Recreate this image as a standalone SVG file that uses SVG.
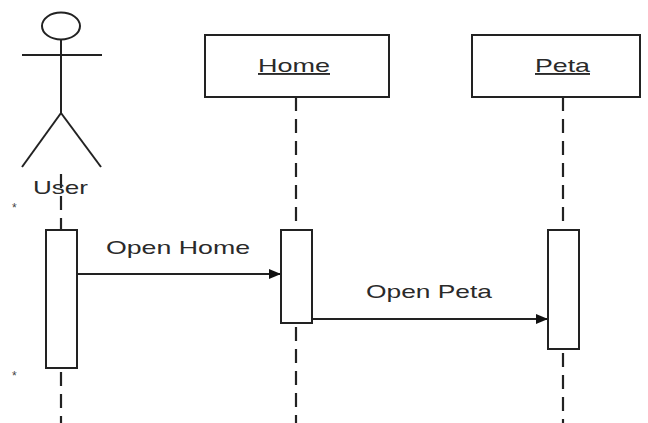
<svg xmlns="http://www.w3.org/2000/svg" width="648" height="423" viewBox="0 0 648 423">
<style>
.ln{stroke:#222;stroke-width:2;fill:none}
.life{stroke:#222;stroke-width:2.2;stroke-dasharray:14 8;fill:none}
.box{fill:#fff;stroke:#222;stroke-width:2}
.t{font-family:"Liberation Sans",Arial,sans-serif;font-size:19px;fill:#2a2a2a}
.s{font-family:"Liberation Sans",Arial,sans-serif;font-size:12px;fill:#444}
</style>
<defs>
<marker id="ah" markerWidth="12" markerHeight="10" refX="12" refY="5" orient="auto" markerUnits="userSpaceOnUse">
<path d="M0,0 L12,5 L0,10 Z" fill="#111"/>
</marker>
</defs>
<rect width="648" height="423" fill="#fff"/>
<g id="connectors">
<line class="life" x1="61" y1="174" x2="61" y2="230"/>
<line class="life" x1="61" y1="372" x2="61" y2="423"/>
<line class="life" x1="296" y1="97" x2="296" y2="230"/>
<line class="life" x1="296" y1="327" x2="296" y2="423"/>
<line class="life" x1="563" y1="97" x2="563" y2="230"/>
<line class="life" x1="563" y1="353" x2="563" y2="423"/>
<line class="ln" x1="77" y1="274" x2="281" y2="274" marker-end="url(#ah)"/>
<line class="ln" x1="312" y1="319" x2="548" y2="319" marker-end="url(#ah)"/>
<text class="t" x="106" y="254" textLength="144" lengthAdjust="spacingAndGlyphs">Open Home</text>
<text class="t" x="366" y="298" textLength="126" lengthAdjust="spacingAndGlyphs">Open Peta</text>
</g>
<g id="user">
<ellipse class="ln" cx="61" cy="26" rx="19" ry="13.5"/>
<line class="ln" x1="61" y1="40" x2="61" y2="113"/>
<line class="ln" x1="22" y1="55" x2="102" y2="55"/>
<line class="ln" x1="61" y1="113" x2="22" y2="167"/>
<line class="ln" x1="61" y1="113" x2="101" y2="167"/>
<text class="t" x="33" y="194" textLength="55" lengthAdjust="spacingAndGlyphs">User</text>
<text class="s" x="12" y="212">*</text>
<text class="s" x="12" y="380">*</text>
<rect class="box" x="46" y="230" width="31" height="138"/>
</g>
<g id="home">
<rect class="box" x="205" y="35" width="184" height="62"/>
<text class="t" x="258" y="72" textLength="72" lengthAdjust="spacingAndGlyphs" text-decoration="underline">Home</text>
<rect class="box" x="281" y="230" width="31" height="93"/>
</g>
<g id="peta">
<rect class="box" x="472" y="35" width="168" height="62"/>
<text class="t" x="535" y="72" textLength="55" lengthAdjust="spacingAndGlyphs" text-decoration="underline">Peta</text>
<rect class="box" x="548" y="230" width="31" height="119"/>
</g>
</svg>
